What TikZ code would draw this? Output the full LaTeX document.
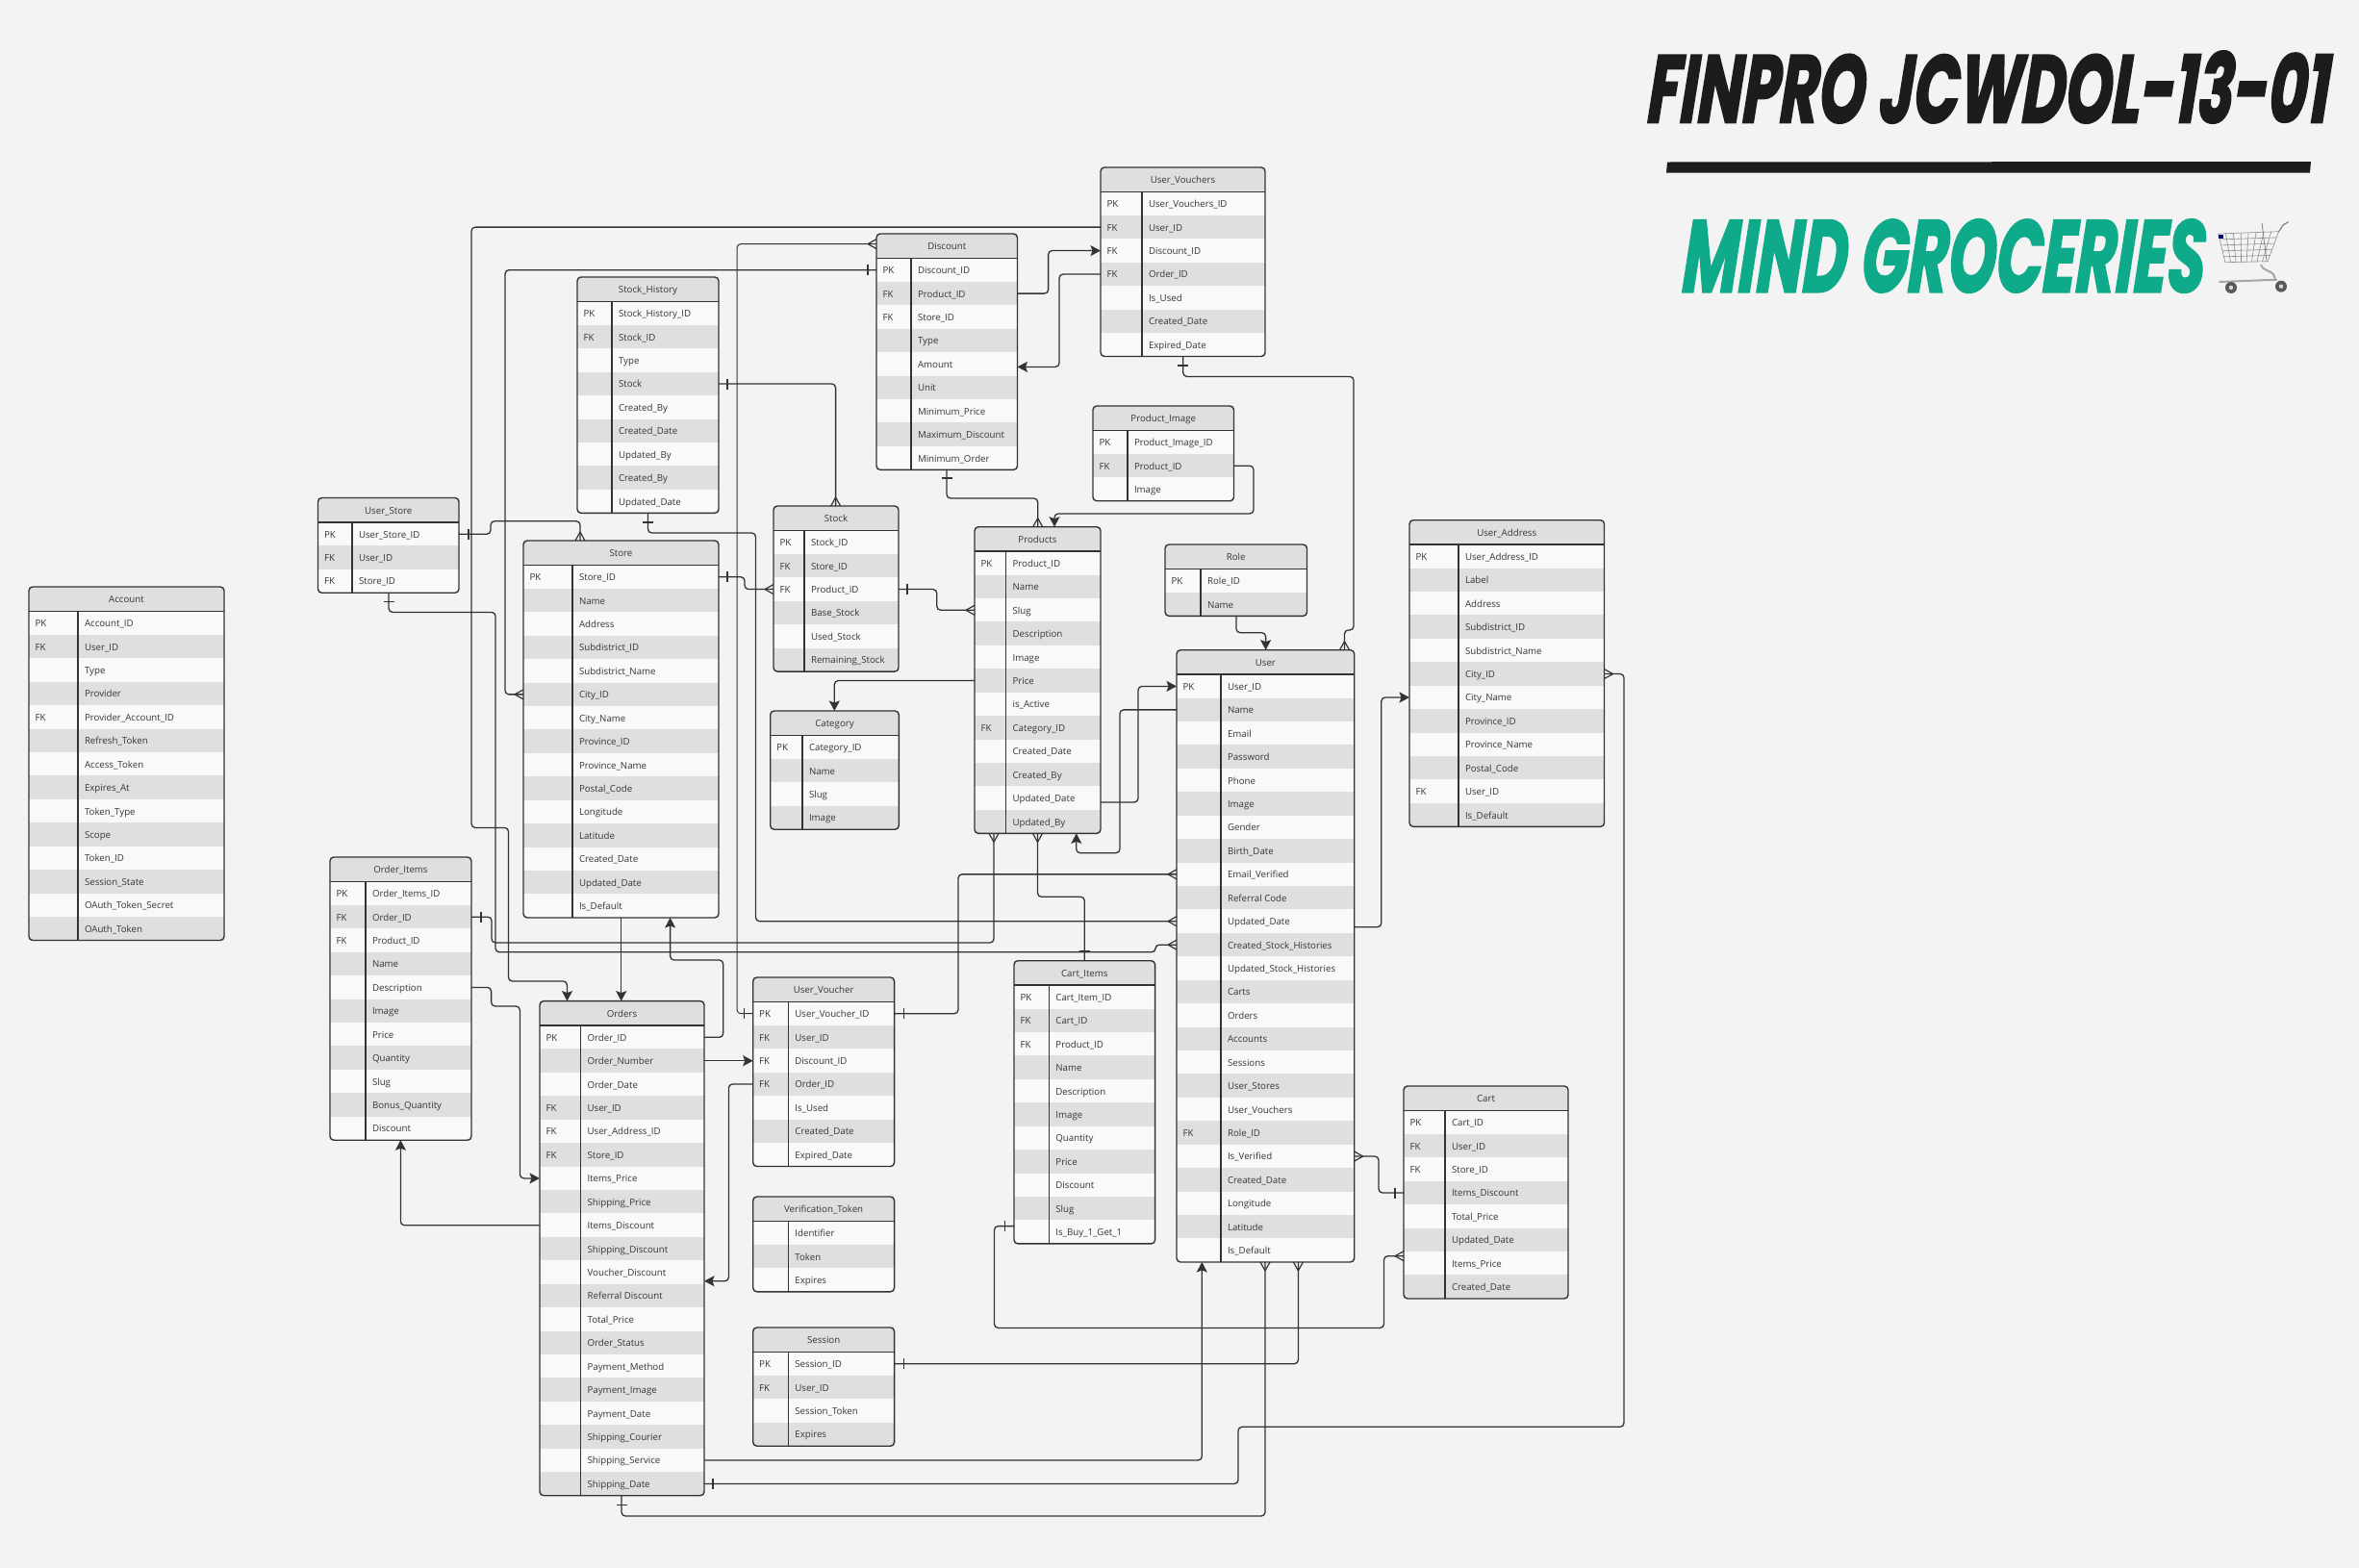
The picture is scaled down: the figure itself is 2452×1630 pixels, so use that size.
\documentclass[tikz,border=0pt]{standalone}
\usepackage{fontspec}
\usepackage{graphicx}
\usetikzlibrary{arrows.meta,calc}
\setmainfont{Open Sans}
\newfontfamily\titlefont[BoldItalicFeatures={FakeBold=2.5,FakeSlant=0.08}]{Poppins}
\definecolor{pagebg}{HTML}{F3F3F3}
\definecolor{rowlight}{HTML}{F9F9F9}
\definecolor{rowdark}{HTML}{DFDFDF}
\definecolor{ink}{HTML}{333333}
\definecolor{txt}{HTML}{363636}
\definecolor{titleblack}{HTML}{1C1C1C}
\definecolor{titlegreen}{HTML}{0FAA8A}
\AtBeginDocument{\catcode`\_=12 }
\tikzset{
  rowcell/.style={inner sep=0,outer sep=0,draw=none},
  tblframe/.style={inner sep=0,outer sep=0,draw=ink,line width=1.4pt,rounded corners=4pt},
  keytxt/.style={inner sep=0,outer sep=0,anchor=base west,text=txt,font=\fontsize{9.7}{11}\selectfont},
  ttltxt/.style={inner sep=0,outer sep=0,anchor=base,text=txt,font=\fontsize{9.7}{11}\selectfont},
  gridline/.style={draw=ink,line width=1.2pt},
  conn/.style={draw=ink,line width=1.3pt,rounded corners=4pt},
  arr/.style={conn,-{Stealth[length=10.5pt,width=11pt,inset=2pt]}},
  crowmark/.pic={\draw[draw=ink,line width=1.2pt] (-9,0) -- (0,5) (-9,0) -- (0,-5);},
  barmark/.pic={\draw[draw=ink,line width=1.2pt] (0,-5.5) -- (0,5.5);}
}
\newcommand\barat[2]{\pic[rotate=#1] at #2 {barmark};}
\newcommand\crowat[2]{\pic[rotate=#1] at #2 {crowmark};}
% name, x1, x2, divider, top, rows, title, list
\newcommand\ertable[8]{%
  \pgfmathsetmacro\erhb{#5+25.5}%
  \pgfmathsetmacro\ertb{\erhb+#6*24.43}%
  \pgfmathsetmacro\ercx{(#2+#3)/2}%
  \pgfmathsetmacro\ercy{(#5+\ertb)/2}%
  \pgfmathsetmacro\erw{#3-#2}%
  \pgfmathsetmacro\erh{\ertb-#5}%
  \pgfmathsetmacro\erhy{#5+16.6}%
  \pgfmathsetmacro\erkx{#2+6.5}%
  \pgfmathsetmacro\ervx{#4+7}%
  \begin{scope}
    \clip[rounded corners=4pt] (#2,#5) rectangle (#3,\ertb);
    \fill[rowdark] (#2,#5) rectangle (#3,\erhb);
    \foreach \k/\v [count=\i] in {#8} {
      \pgfmathsetmacro\ery{\erhb+(\i-0.5)*24.43}
      \pgfmathsetmacro\erb{\ery+3.9}
      \ifodd\i\def\rowcol{rowlight}\else\def\rowcol{rowdark}\fi
      \node[rowcell,fill=\rowcol,minimum width=\erw pt,minimum height=24.6pt] (#1-r\i) at (\ercx,\ery) {};
      \node[keytxt] (#1-k\i) at (\erkx,\erb) {\k};
      \node[keytxt] (#1-v\i) at (\ervx,\erb) {\v};
    }
  \end{scope}
  \node[tblframe,minimum width=\erw pt,minimum height=\erh pt] (#1) at (\ercx,\ercy) {};
  \draw[gridline] (#4,\erhb) -- (#4,\ertb);
  \draw[gridline,line width=1.5pt] (#2,\erhb) -- (#3,\erhb);
  \node[ttltxt] (#1-t) at (\ercx,\erhy) {#7};
}
\begin{document}
\begin{tikzpicture}[x=1pt,y=-1pt]
\useasboundingbox (0,0) rectangle (2452,1630);
\fill[pagebg] (0,0) rectangle (2452,1630);

\ertable{account}{30}{233}{81}{610}{14}{Account}{PK/Account_ID,FK/User_ID,/Type,/Provider,FK/Provider_Account_ID,/Refresh_Token,/Access_Token,/Expires_At,/Token_Type,/Scope,/Token_ID,/Session_State,/OAuth_Token_Secret,/OAuth_Token}
\ertable{ustore}{330.5}{477}{366}{517.5}{3}{User_Store}{PK/User_Store_ID,FK/User_ID,FK/Store_ID}
\ertable{store}{544}{747}{595}{562}{15}{Store}{PK/Store_ID,/Name,/Address,/Subdistrict_ID,/Subdistrict_Name,/City_ID,/City_Name,/Province_ID,/Province_Name,/Postal_Code,/Longitude,/Latitude,/Created_Date,/Updated_Date,/Is_Default}
\ertable{sh}{600}{747}{636}{288}{9}{Stock_History}{PK/Stock_History_ID,FK/Stock_ID,/Type,/Stock,/Created_By,/Created_Date,/Updated_By,/Created_By,/Updated_Date}
\ertable{disc}{911}{1057.5}{947}{243}{9}{Discount}{PK/Discount_ID,FK/Product_ID,FK/Store_ID,/Type,/Amount,/Unit,/Minimum_Price,/Maximum_Discount,/Minimum_Order}
\ertable{uvs}{1144}{1315}{1187}{174}{7}{User_Vouchers}{PK/User_Vouchers_ID,FK/User_ID,FK/Discount_ID,FK/Order_ID,/Is_Used,/Created_Date,/Expired_Date}
\ertable{pi}{1136}{1282.5}{1172}{422}{3}{Product_Image}{PK/Product_Image_ID,FK/Product_ID,/Image}
\ertable{stock}{804}{934}{836}{526}{6}{Stock}{PK/Stock_ID,FK/Store_ID,FK/Product_ID,/Base_Stock,/Used_Stock,/Remaining_Stock}
\ertable{products}{1013}{1144}{1045.6}{547.7}{12}{Products}{PK/Product_ID,/Name,/Slug,/Description,/Image,/Price,/is_Active,FK/Category_ID,/Created_Date,/Created_By,/Updated_Date,/Updated_By}
\ertable{role}{1211}{1358.5}{1248}{566}{2}{Role}{PK/Role_ID,/Name}
\ertable{cat}{800.7}{934.3}{834}{739}{4}{Category}{PK/Category_ID,/Name,/Slug,/Image}
\ertable{user}{1223}{1407.7}{1269}{675.7}{25}{User}{PK/User_ID,/Name,/Email,/Password,/Phone,/Image,/Gender,/Birth_Date,/Email_Verified,/Referral Code,/Updated_Date,/Created_Stock_Histories,/Updated_Stock_Histories,/Carts,/Orders,/Accounts,/Sessions,/User_Stores,/User_Vouchers,FK/Role_ID,/Is_Verified,/Created_Date,/Longitude,/Latitude,/Is_Default}
\ertable{ua}{1465}{1667.5}{1516}{540.7}{12}{User_Address}{PK/User_Address_ID,/Label,/Address,/Subdistrict_ID,/Subdistrict_Name,/City_ID,/City_Name,/Province_ID,/Province_Name,/Postal_Code,FK/User_ID,/Is_Default}
\ertable{oi}{343}{490}{380}{891}{11}{Order_Items}{PK/Order_Items_ID,FK/Order_ID,FK/Product_ID,/Name,/Description,/Image,/Price,/Quantity,/Slug,/Bonus_Quantity,/Discount}
\ertable{orders}{561}{732}{603.6}{1040.6}{20}{Orders}{PK/Order_ID,/Order_Number,/Order_Date,FK/User_ID,FK/User_Address_ID,FK/Store_ID,/Items_Price,/Shipping_Price,/Items_Discount,/Shipping_Discount,/Voucher_Discount,/Referral Discount,/Total_Price,/Order_Status,/Payment_Method,/Payment_Image,/Payment_Date,/Shipping_Courier,/Shipping_Service,/Shipping_Date}
\ertable{uvr}{782.7}{929.6}{819.4}{1016}{7}{User_Voucher}{PK/User_Voucher_ID,FK/User_ID,FK/Discount_ID,FK/Order_ID,/Is_Used,/Created_Date,/Expired_Date}
\ertable{vt}{782.7}{929.6}{819.4}{1244}{3}{Verification_Token}{/Identifier,/Token,/Expires}
\ertable{session}{782.7}{929.6}{819.4}{1380}{4}{Session}{PK/Session_ID,FK/User_ID,/Session_Token,/Expires}
\ertable{ci}{1054}{1200.6}{1090.4}{998.7}{11}{Cart_Items}{PK/Cart_Item_ID,FK/Cart_ID,FK/Product_ID,/Name,/Description,/Image,/Quantity,/Price,/Discount,/Slug,/Is_Buy_1_Get_1}
\ertable{cart}{1459}{1630}{1502}{1129}{8}{Cart}{PK/Cart_ID,FK/User_ID,FK/Store_ID,/Items_Discount,/Total_Price,/Updated_Date,/Items_Price,/Created_Date}

% connectors
\draw[conn] (ustore-r1.east) -- (510,0 |- ustore-r1.east) -- (510,541.8) -- (603,541.8) -- (603,0 |- store.north);
\barat{0}{($(ustore-r1.east)+(10,0)$)} \crowat{270}{(603,0 |- store.north)}

\draw[conn] (404,0 |- ustore.south) -- (404,636.4) -- (515,636.4) -- (515,989.8) -- (1201,989.8) -- (1201,0 |- user-r12.west) -- (user-r12.west);
\barat{90}{(404,625.7)} \crowat{0}{(user-r12.west)}

\draw[conn] (oi-r2.east) -- (511,0 |- oi-r2.east) -- (511,980) -- (1033,980) -- (1033,0 |- products.south);
\barat{0}{($(oi-r2.east)+(10,0)$)} \crowat{90}{(1033,0 |- products.south)}

\draw[arr] (oi-r5.east) -- (510.6,0 |- oi-r5.east) -- (510.6,1046) -- (540.4,1046) -- (540.4,0 |- orders-r7.west) -- (orders-r7.west);
\draw[arr] (orders-r9.west) -- (416.4,0 |- orders-r9.west) -- (416.4,0 |- oi.south);

\draw[arr] (uvs-r2.west) -- (490,0 |- uvs-r2.west) -- (490,860.4) -- (528.5,860.4) -- (528.5,1020) -- (589.5,1020) -- (589.5,0 |- orders.north);

\draw[conn] (disc-r1.west) -- (525,0 |- disc-r1.west) -- (525,0 |- store-r6.west) -- (store-r6.west);
\barat{0}{($(disc-r1.west)+(-9,0)$)} \crowat{0}{(store-r6.west)}

\draw[conn,line width=1pt] (disc.west |- 0,253.6) -- (766,253.6) -- (766,0 |- uvr-r1.west) -- (uvr-r1.west);
\crowat{0}{(disc.west |- 0,253.6)} \barat{0}{($(uvr-r1.west)+(-9,0)$)}

\draw[arr] (disc-r2.east) -- (1089.6,0 |- disc-r2.east) -- (1089.6,0 |- uvs-r3.west) -- (uvs-r3.west);
\draw[arr] (uvs-r4.west) -- (1101,0 |- uvs-r4.west) -- (1101,381.4) -- (disc.east |- 0,381.4);

\draw[conn] (1229.7,0 |- uvs.south) -- (1229.7,391.4) -- (1407,391.4) -- (1407,655) -- (1397.5,655) -- (1397.5,0 |- user.north);
\barat{90}{(1229.7,380)} \crowat{270}{(1397.5,0 |- user.north)}

\draw[conn] (sh-r4.east) -- (868.6,0 |- sh-r4.east) -- (868.6,0 |- stock.north);
\barat{0}{($(sh-r4.east)+(9,0)$)} \crowat{270}{(868.6,0 |- stock.north)}

\draw[conn] (673.5,0 |- sh.south) -- (673.5,554) -- (785.5,554) -- (785.5,0 |- user-r11.west) -- (user-r11.west);
\barat{90}{(673.5,543)} \crowat{0}{(user-r11.west)}

\draw[conn] (store-r1.east) -- (774,0 |- store-r1.east) -- (774,0 |- stock-r3.west) -- (stock-r3.west);
\barat{0}{($(store-r1.east)+(9,0)$)} \crowat{0}{(stock-r3.west)}

\draw[conn] (stock-r3.east) -- (973.7,0 |- stock-r3.east) -- (973.7,0 |- products-r3.west) -- (products-r3.west);
\barat{0}{($(stock-r3.east)+(9,0)$)} \crowat{0}{(products-r3.west)}

\draw[conn] (984,0 |- disc.south) -- (984,518) -- (1078.7,518) -- (1078.7,0 |- products.north);
\barat{90}{(984,497)} \crowat{270}{(1078.7,0 |- products.north)}

\draw[arr] (pi-r2.east) -- (1303,0 |- pi-r2.east) -- (1303,534) -- (1096,534) -- (1096,0 |- products.north);
\draw[arr] (1285,0 |- role.south) -- (1285,657.7) -- (1315.6,657.7) -- (1315.6,0 |- user.north);
\draw[arr] (products.east |- 0,834) -- (1183,834) -- (1183,0 |- user-r1.west) -- (user-r1.west);
\draw[arr] (user-r2.west) -- (1164,0 |- user-r2.west) -- (1164,886.7) -- (1118.8,886.7) -- (1118.8,0 |- products.south);
\draw[arr] (products-r6.west) -- (867.3,0 |- products-r6.west) -- (867.3,0 |- cat.north);

\draw[conn] (1078.5,0 |- products.south) -- (1078.5,932.3) -- (1127.3,932.3) -- (1127.3,0 |- ci.north);
\crowat{90}{(1078.5,0 |- products.south)} \barat{90}{(1127.3,989)}

\draw[conn] (user-r9.west) -- (996,0 |- user-r9.west) -- (996,0 |- uvr-r1.east) -- (uvr-r1.east);
\crowat{0}{(user-r9.west)} \barat{0}{($(uvr-r1.east)+(10,0)$)}

\draw[arr] (645.7,0 |- store.south) -- (645.7,0 |- orders.north);
\draw[arr] (orders-r1.east) -- (751.7,0 |- orders-r1.east) -- (751.7,998) -- (696.6,998) -- (696.6,0 |- store.south);
\draw[arr] (orders-r2.east) -- (orders-r2.east -| uvr.west);
\draw[arr] (uvr-r4.west) -- (757.4,0 |- uvr-r4.west) -- (757.4,1331.7) -- (orders.east |- 0,1331.7);

\draw[conn] (session-r1.east) -- (1349.4,0 |- session-r1.east) -- (1349.4,0 |- user.south);
\barat{0}{($(session-r1.east)+(10,0)$)} \crowat{90}{(1349.4,0 |- user.south)}

\draw[arr] (orders-r19.east) -- (1249.3,0 |- orders-r19.east) -- (1249.3,0 |- user.south);

\draw[conn] (orders-r20.east) -- (1287,0 |- orders-r20.east) -- (1287,1483.3) -- (1688,1483.3) -- (1688,0 |- ua-r6.east) -- (ua-r6.east);
\barat{0}{($(orders-r20.east)+(9,0)$)} \crowat{180}{(ua-r6.east)}

\draw[conn] (646,0 |- orders.south) -- (646,1576) -- (1315,1576) -- (1315,0 |- user.south);
\barat{90}{(646,1564.7)} \crowat{90}{(1315,0 |- user.south)}

\draw[arr] (user.east |- 0,963.7) -- (1435.8,963.7) -- (1435.8,0 |- ua-r7.west) -- (ua-r7.west);

\draw[conn] (user-r21.east) -- (1433,0 |- user-r21.east) -- (1433,0 |- cart-r4.west) -- (cart-r4.west);
\crowat{180}{(user-r21.east)} \barat{0}{($(cart-r4.west)+(-9,0)$)}

\draw[conn] (cart.west |- 0,1305.7) -- (1438.5,1305.7) -- (1438.5,1380.4) -- (1033.5,1380.4) -- (1033.5,1274.6) -- (ci.west |- 0,1274.6);
\crowat{0}{(cart.west |- 0,1305.7)} \barat{0}{(1044.5,1274.6)}

% headings
\node[inner sep=0,anchor=north west,text=titleblack] (heading) at (1712,53) {\resizebox{709pt}{74pt}{\titlefont\bfseries\itshape FINPRO JCWDOL-13-01}};
\fill[titleblack] (1733,168.5) -- (2402,168) -- (2401,179.5) -- (1732,179.5) -- cycle;
\node[inner sep=0,anchor=north west,text=titlegreen] (subheading) at (1748,228) {\resizebox{543pt}{75pt}{\titlefont\bfseries\itshape MIND GROCERIES}};

% shopping cart
\begin{scope}[draw=black!45,line width=0.6pt]
  \foreach \t in {0,0.125,...,1.01} {
    \draw ({2305.6+\t*63},{243-\t*2.3}) -- ({2313+\t*44},{272.7-\t*1});
  }
  \foreach \t in {0,0.2,...,1.01} {
    \draw ({2305.6+\t*7.4},{243+\t*29.7}) -- ({2368.6-\t*11.6},{240.7+\t*31});
  }
  \draw[line width=1.2pt,black!50] (2368.7,240.7) -- (2373,234) -- (2378.5,230.7);
  \draw[line width=0.8pt,black!50] (2351,231.7) -- (2356,270.7);
  \draw[line width=2pt,black!35] (2350,275) .. controls (2352,283) and (2364,280) .. (2364.7,290);
  \draw[line width=2pt,black!35] (2306.6,293) -- (2367,290.7);
  \fill[black!65] (2319,299) circle (6);
  \fill[black!65] (2371,297.7) circle (6);
  \fill[black!15] (2319,299) circle (2.2);
  \fill[black!15] (2371,297.7) circle (2.2);
  \fill[blue!40!black] (2306,244) rectangle (2310.5,248);
\end{scope}
\end{tikzpicture}
\end{document}
